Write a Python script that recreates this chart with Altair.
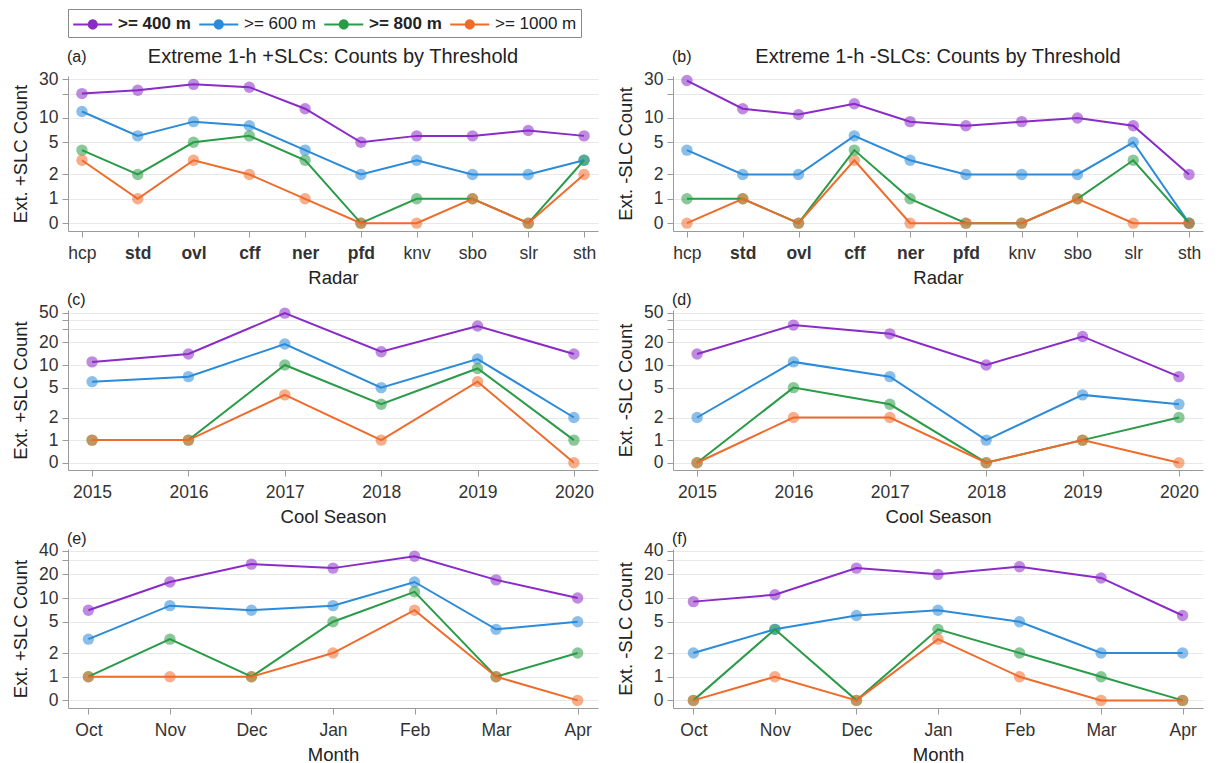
import math
import altair as alt
import pandas as pd

FONT = "Liberation Sans"

series = [">= 400 m", ">= 600 m", ">= 800 m", ">= 1000 m"]
colors = ["#8a2bc7", "#2b8bd8", "#2a9b47", "#ef6b2c"]

radars = ["hcp", "std", "ovl", "cff", "ner", "pfd", "knv", "sbo", "slr", "sth"]
bold_radars = ["std", "ovl", "cff", "ner", "pfd"]
seasons = ["2015", "2016", "2017", "2018", "2019", "2020"]
months = ["Oct", "Nov", "Dec", "Jan", "Feb", "Mar", "Apr"]

# (a) +SLC counts by radar
a_400 = [20, 22, 26, 24, 13, 5, 6, 6, 7, 6]
a_600 = [12, 6, 9, 8, 4, 2, 3, 2, 2, 3]
a_800 = [4, 2, 5, 6, 3, 0, 1, 1, 0, 3]
a_1000 = [3, 1, 3, 2, 1, 0, 0, 1, 0, 2]
# (b) -SLC counts by radar
b_400 = [29, 13, 11, 15, 9, 8, 9, 10, 8, 2]
b_600 = [4, 2, 2, 6, 3, 2, 2, 2, 5, 0]
b_800 = [1, 1, 0, 4, 1, 0, 0, 1, 3, 0]
b_1000 = [0, 1, 0, 3, 0, 0, 0, 1, 0, 0]
# (c) +SLC counts by cool season
c_400 = [11, 14, 49, 15, 33, 14]
c_600 = [6, 7, 19, 5, 12, 2]
c_800 = [1, 1, 10, 3, 9, 1]
c_1000 = [1, 1, 4, 1, 6, 0]
# (d) -SLC counts by cool season
d_400 = [14, 34, 26, 10, 24, 7]
d_600 = [2, 11, 7, 1, 4, 3]
d_800 = [0, 5, 3, 0, 1, 2]
d_1000 = [0, 2, 2, 0, 1, 0]
# (e) +SLC counts by month
e_400 = [7, 16, 27, 24, 34, 17, 10]
e_600 = [3, 8, 7, 8, 16, 4, 5]
e_800 = [1, 3, 1, 5, 12, 1, 2]
e_1000 = [1, 1, 1, 2, 7, 1, 0]
# (f) -SLC counts by month
f_400 = [9, 11, 24, 20, 25, 18, 6]
f_600 = [2, 4, 6, 7, 5, 2, 2]
f_800 = [0, 4, 0, 4, 2, 1, 0]
f_1000 = [0, 1, 0, 3, 1, 0, 0]

ticks_row1 = [0.5, 1, 2, 5, 10, 20, 30]
labels_row1 = [0.5, 1, 2, 5, 10, 30]
ticks_row2 = [0.5, 1, 2, 5, 10, 20, 30, 40, 50]
labels_row2 = [0.5, 1, 2, 5, 10, 20, 50]
ticks_row3 = [0.5, 1, 2, 5, 10, 20, 30, 40]
labels_row3 = [0.5, 1, 2, 5, 10, 20, 40]

title_pos = "Extreme 1-h +SLCs: Counts by Threshold"
title_neg = "Extreme 1-h -SLCs: Counts by Threshold"

W = 530

# legend symbol: a line with a dot in the middle (unit = half the symbol box)
_circ = []
for k in range(24):
    ang = 2 * math.pi * k / 24
    _circ.append(f"{1 + 0.42 * math.cos(ang):.3f},{0.42 * math.sin(ang):.3f}")
SYMBOL = "M-1,0L3,0M" + "L".join(_circ) + "Z"


def panel(cats, vals, xtitle, ytitle, letter, ticks, labels, ymax, height,
          main_title=None, bold=None):
    rows = []
    for s, v in zip(series, vals):
        for c, n in zip(cats, v):
            rows.append({"cat": c, "series": s, "count": n,
                         "plot": n if n > 0 else 0.5})
    df = pd.DataFrame(rows)
    lab_list = ",".join(str(x) for x in labels)
    label_expr = (f"indexof([{lab_list}], datum.value) >= 0 ? "
                  f"(datum.value == 0.5 ? '0' : datum.label) : ''")
    xaxis_kw = dict(labelAngle=0, title=xtitle, grid=False, labelPadding=7,
                    titlePadding=7)
    if bold:
        blist = ",".join(f"'{b}'" for b in bold)
        xaxis_kw["labelFontWeight"] = {
            "condition": {"test": f"indexof([{blist}], datum.value) >= 0",
                          "value": "bold"},
            "value": "normal"}
    base = alt.Chart(df).encode(
        x=alt.X("cat:N", sort=cats,
                scale=alt.Scale(type="point", padding=0.25),
                axis=alt.Axis(**xaxis_kw)),
        y=alt.Y("plot:Q",
                scale=alt.Scale(type="log", domain=[0.4, ymax], nice=False),
                axis=alt.Axis(values=ticks, labelExpr=label_expr,
                              title=ytitle, grid=True, labelPadding=4,
                              titlePadding=8)),
        color=alt.Color("series:N", sort=series,
                        scale=alt.Scale(domain=series, range=colors),
                        legend=alt.Legend(
                            title=None, orient="top", direction="horizontal",
                            columns=4,
                            labelFontWeight={"expr": "(datum.label == '>= 400 m' || datum.label == '>= 800 m') ? 'bold' : 'normal'"},
                        )),
    )
    pts = base.mark_circle(size=130, opacity=0.55)
    line = base.mark_line(strokeWidth=2)
    layers = [pts, line]
    tdf = pd.DataFrame({"t": [letter]})
    layers.append(
        alt.Chart(tdf).mark_text(fontSize=16, font=FONT, color="#222",
                                 baseline="middle", align="left")
        .encode(text="t:N", x=alt.value(-1),
                y=alt.value(-19 if main_title else -10))
    )
    if main_title:
        mdf = pd.DataFrame({"t": [main_title]})
        layers.append(
            alt.Chart(mdf).mark_text(fontSize=20, font=FONT, color="#222",
                                     baseline="middle", align="center")
            .encode(text="t:N", x=alt.value(W / 2), y=alt.value(-19))
        )
    return alt.layer(*layers).properties(width=W, height=height)


row1 = alt.hconcat(
    panel(radars, [a_400, a_600, a_800, a_1000], "Radar", "Ext. +SLC Count",
          "(a)", ticks_row1, labels_row1, 33, 155, title_pos, bold_radars),
    panel(radars, [b_400, b_600, b_800, b_1000], "Radar", "Ext. -SLC Count",
          "(b)", ticks_row1, labels_row1, 33, 155, title_neg, bold_radars),
    spacing=18,
)
row2 = alt.hconcat(
    panel(seasons, [c_400, c_600, c_800, c_1000], "Cool Season",
          "Ext. +SLC Count", "(c)", ticks_row2, labels_row2, 54, 160),
    panel(seasons, [d_400, d_600, d_800, d_1000], "Cool Season",
          "Ext. -SLC Count", "(d)", ticks_row2, labels_row2, 54, 160),
    spacing=18,
)
row3 = alt.hconcat(
    panel(months, [e_400, e_600, e_800, e_1000], "Month",
          "Ext. +SLC Count", "(e)", ticks_row3, labels_row3, 42, 159),
    panel(months, [f_400, f_600, f_800, f_1000], "Month",
          "Ext. -SLC Count", "(f)", ticks_row3, labels_row3, 42, 159),
    spacing=18,
)

chart = alt.vconcat(row1, row2, row3, spacing=5).properties(
    padding={"left": 3, "top": 0, "right": 3, "bottom": 0}
).configure_view(stroke=None).configure_axis(
    labelFont=FONT, labelFontSize=17.5, labelColor="#333",
    titleFont=FONT, titleFontSize=18.5, titleFontWeight="normal",
    titleColor="#222", domainColor="#9a9a9a", tickColor="#9a9a9a",
    tickSize=6, gridColor="#e8e8e8",
).configure_legend(
    labelFont=FONT, labelFontSize=17, labelColor="#222",
    symbolType=SYMBOL, symbolSize=380, symbolStrokeWidth=2, symbolOpacity=1,
    strokeColor="#888", padding=4, columnPadding=4, labelOffset=24,
    offset=10,
)

chart.save("out.html", embed_options={"renderer": "svg", "actions": False})
